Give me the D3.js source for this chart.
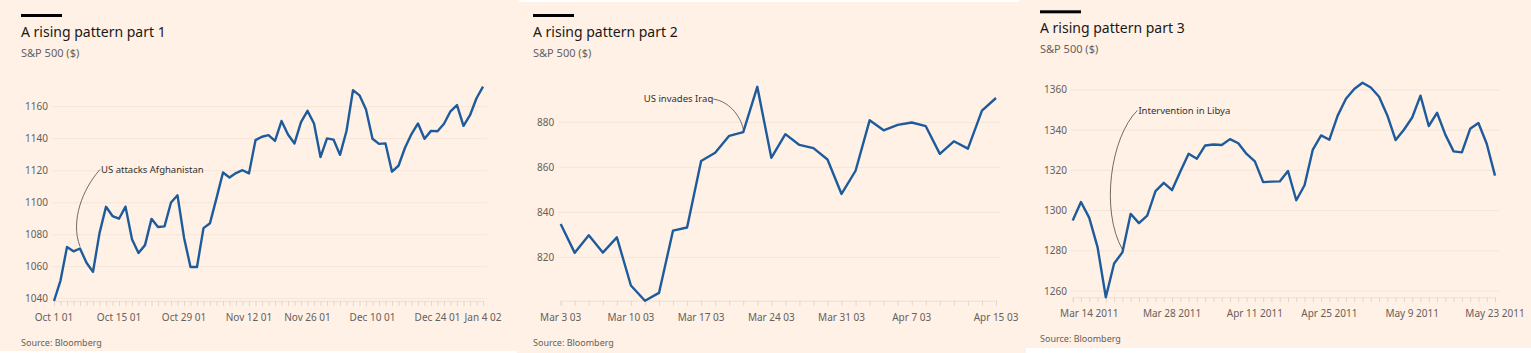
<!DOCTYPE html>
<html>
<head>
<meta charset="utf-8">
<script src="https://cdn.jsdelivr.net/npm/d3@7"></script>
<style>
  body { margin: 0; background: #fff; }
  svg { display: block; font-family: "Noto Sans", sans-serif; }
</style>
</head>
<body>
<script>

// ---- data ----

var p1Dates = [
  '2001-10-01','2001-10-02','2001-10-03','2001-10-04','2001-10-05','2001-10-08','2001-10-09','2001-10-10','2001-10-11','2001-10-12',
  '2001-10-15','2001-10-16','2001-10-17','2001-10-18','2001-10-19','2001-10-22','2001-10-23','2001-10-24','2001-10-25','2001-10-26',
  '2001-10-29','2001-10-30','2001-10-31','2001-11-01','2001-11-02','2001-11-05','2001-11-06','2001-11-07','2001-11-08','2001-11-09',
  '2001-11-12','2001-11-13','2001-11-14','2001-11-15','2001-11-16','2001-11-19','2001-11-20','2001-11-21','2001-11-23','2001-11-26',
  '2001-11-27','2001-11-28','2001-11-29','2001-11-30','2001-12-03','2001-12-04','2001-12-05','2001-12-06','2001-12-07','2001-12-10',
  '2001-12-11','2001-12-12','2001-12-13','2001-12-14','2001-12-17','2001-12-18','2001-12-19','2001-12-20','2001-12-21','2001-12-24',
  '2001-12-26','2001-12-27','2001-12-28','2001-12-31','2002-01-02','2002-01-03','2002-01-04'
];
var p1Values = [
  1038.55, 1051.33, 1072.28, 1069.63, 1071.38, 1062.44, 1056.75, 1080.99, 1097.43, 1091.65,
  1089.98, 1097.54, 1077.09, 1068.61, 1073.48, 1089.90, 1084.78, 1085.20, 1100.09, 1104.61,
  1078.30, 1059.79, 1059.78, 1084.10, 1087.20, 1102.84, 1118.86, 1115.80, 1118.54, 1120.31,
  1118.33, 1139.09, 1141.21, 1142.24, 1138.65, 1151.06, 1142.66, 1137.03, 1150.34, 1157.42,
  1149.50, 1128.52, 1140.20, 1139.45, 1129.90, 1144.80, 1170.35, 1167.10, 1158.31, 1139.93,
  1136.76, 1137.07, 1119.38, 1123.09, 1134.36, 1142.92, 1149.56, 1139.93, 1144.89, 1144.65,
  1149.37, 1157.13, 1161.02, 1148.08, 1154.67, 1165.27, 1172.51
];
var p1TickDates = ['2001-10-01','2001-10-15','2001-10-29','2001-11-12','2001-11-26','2001-12-10','2001-12-24','2002-01-04'];
var p1TickLabels = ['Oct 1 01','Oct 15 01','Oct 29 01','Nov 12 01','Nov 26 01','Dec 10 01','Dec 24 01','Jan 4 02'];
var p1YTicks = [1040, 1060, 1080, 1100, 1120, 1140, 1160];

var p2Dates = [
  '2003-03-03','2003-03-04','2003-03-05','2003-03-06','2003-03-07','2003-03-10','2003-03-11','2003-03-12','2003-03-13','2003-03-14',
  '2003-03-17','2003-03-18','2003-03-19','2003-03-20','2003-03-21','2003-03-24','2003-03-25','2003-03-26','2003-03-27','2003-03-28',
  '2003-03-31','2003-04-01','2003-04-02','2003-04-03','2003-04-04','2003-04-07','2003-04-08','2003-04-09','2003-04-10','2003-04-11',
  '2003-04-14','2003-04-15'
];
var p2Values = [
  834.81, 821.99, 829.85, 822.10, 828.89, 807.48, 800.73, 804.19, 831.90, 833.27,
  862.79, 866.45, 874.02, 875.67, 895.79, 864.23, 874.74, 869.95, 868.52, 863.50,
  848.18, 858.48, 880.90, 876.45, 878.85, 879.93, 878.29, 865.99, 871.58, 868.30,
  885.23, 890.81
];
var p2TickDates = ['2003-03-03','2003-03-10','2003-03-17','2003-03-24','2003-03-31','2003-04-07','2003-04-15'];
var p2TickLabels = ['Mar 3 03','Mar 10 03','Mar 17 03','Mar 24 03','Mar 31 03','Apr 7 03','Apr 15 03'];
var p2YTicks = [820, 840, 860, 880];

var p3Dates = [
  '2011-03-10','2011-03-11','2011-03-14','2011-03-15','2011-03-16','2011-03-17','2011-03-18','2011-03-21','2011-03-22','2011-03-23',
  '2011-03-24','2011-03-25','2011-03-28','2011-03-29','2011-03-30','2011-03-31','2011-04-01','2011-04-04','2011-04-05','2011-04-06',
  '2011-04-07','2011-04-08','2011-04-11','2011-04-12','2011-04-13','2011-04-14','2011-04-15','2011-04-18','2011-04-19','2011-04-20',
  '2011-04-21','2011-04-25','2011-04-26','2011-04-27','2011-04-28','2011-04-29','2011-05-02','2011-05-03','2011-05-04','2011-05-05',
  '2011-05-06','2011-05-09','2011-05-10','2011-05-11','2011-05-12','2011-05-13','2011-05-16','2011-05-17','2011-05-18','2011-05-19',
  '2011-05-20','2011-05-23'
];
var p3Values = [
  1295.11, 1304.28, 1296.39, 1281.87, 1256.88, 1273.72, 1279.21, 1298.38, 1293.77, 1297.54,
  1309.66, 1313.80, 1310.19, 1319.44, 1328.26, 1325.83, 1332.41, 1332.87, 1332.63, 1335.54,
  1333.51, 1328.17, 1324.46, 1314.16, 1314.41, 1314.52, 1319.68, 1305.14, 1312.62, 1330.36,
  1337.38, 1335.25, 1347.24, 1355.66, 1360.48, 1363.61, 1361.22, 1356.62, 1347.32, 1335.10,
  1340.20, 1346.29, 1357.16, 1342.08, 1348.65, 1337.77, 1329.47, 1328.98, 1340.68, 1343.60,
  1333.27, 1317.37
];
var p3TickDates = ['2011-03-14','2011-03-28','2011-04-11','2011-04-25','2011-05-09','2011-05-23'];
var p3TickLabels = ['Mar 14 2011','Mar 28 2011','Apr 11 2011','Apr 25 2011','May 9 2011','May 23 2011'];
var p3YTicks = [1260, 1280, 1300, 1320, 1340, 1360];

var titles = ['A rising pattern part 1', 'A rising pattern part 2', 'A rising pattern part 3'];
var subtitle = 'S&P 500 ($)';
var source = 'Source: Bloomberg';
var notes = ['US attacks Afghanistan', 'US invades Iraq', 'Intervention in Libya'];
var noteDates = ['2001-10-05', '2003-03-20', '2011-03-18'];

// ---- layout ----

var width = 1531, height = 353;

var svg = d3.select('body').append('svg')
  .attr('width', width)
  .attr('height', height);

var panels = [
  { ox: 0,    oy: 0,    bg: [0, 0, 519, 351],   xr: [54, 483],   yr: [301, 86.7],
    dates: p1Dates, values: p1Values, tickDates: p1TickDates, tickLabels: p1TickLabels, yTicks: p1YTicks,
    note: { dx: 20, dy: -77, anchor: 'start', c1: [-17, 19], c2: [-10, -26], tdx: 1, gap: 2 } },
  { ox: 512,  oy: 0,    bg: [5, 2, 509, 351],   xr: [48.7, 484], yr: [300.7, 86.8],
    dates: p2Dates, values: p2Values, tickDates: p2TickDates, tickLabels: p2TickLabels, yTicks: p2YTicks,
    note: { dx: -30, dy: -30, anchor: 'end', c1: [15, 2], c2: [-3, -14], tdx: 0, gap: 3 } },
  { ox: 1019, oy: -3.7, bg: [0, 3.7, 512, 348], xr: [53.7, 476], yr: [301, 86.4],
    dates: p3Dates, values: p3Values, tickDates: p3TickDates, tickLabels: p3TickLabels, yTicks: p3YTicks,
    note: { dx: 15, dy: -139, anchor: 'start', c1: [-27, 27], c2: [-22, -39], tdx: 1, gap: 3 } }
];

panels.forEach(function(p, k){

  var g = svg.append('g').attr('transform', 'translate(' + p.ox + ',' + p.oy + ')');

  g.append('rect')
    .attr('x', p.bg[0]).attr('y', p.bg[1])
    .attr('width', p.bg[2]).attr('height', p.bg[3])
    .attr('fill', '#fff1e5');

  // header
  g.append('rect')
    .attr('x', 21).attr('y', 14)
    .attr('width', 41).attr('height', 3)
    .attr('fill', '#000');

  g.append('text')
    .attr('x', 21).attr('y', 36.5)
    .attr('font-size', 14)
    .attr('fill', '#1a1817')
    .text(titles[k]);

  g.append('text')
    .attr('x', 21).attr('y', 57)
    .attr('font-size', 11)
    .attr('fill', '#66605c')
    .text(subtitle);

  var x = d3.scalePoint()
    .domain(p.dates)
    .range(p.xr);

  var y = d3.scaleLinear()
    .domain(d3.extent(p.values))
    .range(p.yr);

  // grid + y labels
  g.selectAll('.grid')
    .data(p.yTicks)
    .enter().append('line')
    .attr('x1', p.xr[0] - 2)
    .attr('x2', p.xr[1] + 4)
    .attr('y1', function(d){ return y(d); })
    .attr('y2', function(d){ return y(d); })
    .attr('stroke', '#f5e5d9')
    .attr('stroke-width', 1);

  g.selectAll('.ylab')
    .data(p.yTicks)
    .enter().append('text')
    .attr('x', 25)
    .attr('y', function(d){ return y(d); })
    .attr('dy', '0.35em')
    .attr('font-size', 10)
    .attr('fill', '#66605c')
    .text(function(d){ return d; });

  // x axis, a tick per trading day
  var xAxis = d3.axisBottom(x)
    .tickValues(p.dates)
    .tickSize(5)
    .tickFormat('');

  var ax = g.append('g')
    .attr('transform', 'translate(0,' + p.yr[0] + ')')
    .call(xAxis);
  ax.select('.domain').attr('stroke', '#efdfd2');
  ax.selectAll('.tick line').attr('stroke', '#e6d6c9');

  g.selectAll('.xlab')
    .data(p.tickDates)
    .enter().append('text')
    .attr('x', function(d){ return x(d); })
    .attr('y', 320.5)
    .attr('text-anchor', 'middle')
    .attr('font-size', 10)
    .attr('fill', '#66605c')
    .text(function(d, i){ return p.tickLabels[i]; });

  // line
  var pts = p.dates.map(function(d, i){ return [d, p.values[i]]; });

  g.append('path')
    .datum(pts)
    .attr('fill', 'none')
    .attr('stroke', '#1e5b9c')
    .attr('stroke-width', 2.4)
    .attr('stroke-linejoin', 'round')
    .attr('d', d3.line()
      .x(function(d){ return x(d[0]); })
      .y(function(d){ return y(d[1]); }));

  // annotation
  var nd = noteDates[k];
  var px = x(nd), py = y(p.values[p.dates.indexOf(nd)]) - p.note.gap;
  var sx = px + p.note.dx, sy = py + p.note.dy;

  g.append('path')
    .attr('fill', 'none')
    .attr('stroke', '#33302e')
    .attr('stroke-width', 0.7)
    .attr('d', 'M' + sx + ',' + sy +
      'C' + (sx + p.note.c1[0]) + ',' + (sy + p.note.c1[1]) + ' ' +
      (px + p.note.c2[0]) + ',' + (py + p.note.c2[1]) + ' ' + px + ',' + py);

  g.append('text')
    .attr('x', sx + p.note.tdx)
    .attr('y', sy)
    .attr('dy', '0.35em')
    .attr('text-anchor', p.note.anchor)
    .attr('font-size', 9.5)
    .attr('fill', '#33302e')
    .text(notes[k]);

  g.append('text')
    .attr('x', 21).attr('y', 346)
    .attr('font-size', 9)
    .attr('fill', '#66605c')
    .text(source);
});

</script>
</body>
</html>
